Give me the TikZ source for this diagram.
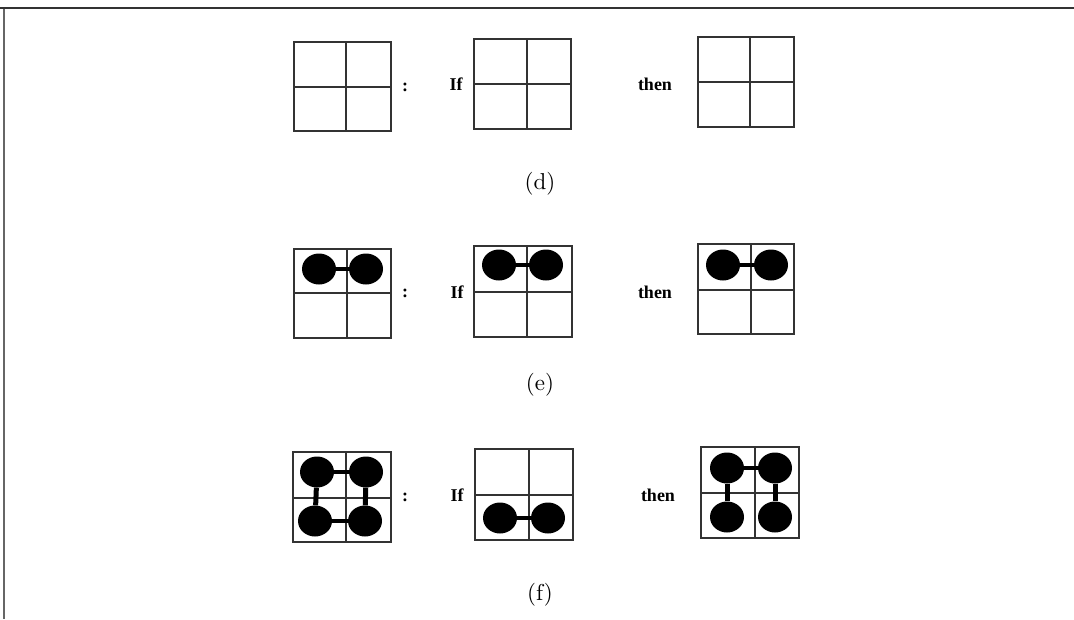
\documentclass[tikz,border=0pt]{standalone}
\usepackage{fontspec}
\newfontfamily\tms{Liberation Serif}
\newfontfamily\lmten{lmroman10-regular.otf}
\usetikzlibrary{shapes.geometric}
\newcommand\qgrid[6]{\draw[gridline] (#1,#2) rectangle (#3,#4) (#5,#2) -- (#5,#4) (#1,#6) -- (#3,#6);}
\begin{document}
\begin{tikzpicture}[x=1pt,y=-1pt,
 gridline/.style={line width=1.2pt,draw=black!80},
 ball/.style={ellipse,fill=black,minimum width=34pt,minimum height=31pt,inner sep=0pt},
 hbond/.style={line width=3.5pt},
 vbond/.style={line width=5pt},
 kw/.style={font=\tms\bfseries\fontsize{18}{20}\selectfont,inner sep=0pt},
 capt/.style={font=\lmten\fontsize{23}{26}\selectfont,inner sep=0pt}]
\useasboundingbox (0,0) rectangle (1074,619);
\draw[line width=2pt,black!80] (0,8) -- (1074,8);
\draw[line width=1.5pt,black!60] (4,9) -- (4,619);
% row d
\qgrid{294}{42}{391}{131}{346}{87}
\qgrid{474}{39}{571}{129}{527}{84}
\qgrid{698}{37}{794}{127}{750}{82}
\node[kw] (cd) at (405,87) {:};
\node[kw] (ifd) at (456,84) {If};
\node[kw] (thd) at (655,84) {then};
\node[capt] (labd) at (540,184) {(d)};
% row e
\qgrid{294}{249}{391}{338}{347}{293}
\qgrid{474}{246}{572}{337}{527}{292}
\qgrid{698}{244}{794}{334}{751}{290}
\node[kw] (ce) at (405,293) {:};
\node[kw] (ife) at (457,292) {If};
\node[kw] (the) at (655,292) {then};
\node[capt] (labe) at (540,385) {(e)};
\node[ball] (e1a) at (319,269) {};
\node[ball] (e1b) at (366,269) {};
\draw[hbond] (e1a) -- (e1b);
\node[ball] (e2a) at (499,265) {};
\node[ball] (e2b) at (546,265) {};
\draw[hbond] (e2a) -- (e2b);
\node[ball] (e3a) at (723,265) {};
\node[ball] (e3b) at (771,265) {};
\draw[hbond] (e3a) -- (e3b);
% row f
\qgrid{293}{452}{391}{542}{346}{498}
\qgrid{475}{449}{573}{540}{529}{495}
\qgrid{701}{447}{799}{538}{755}{493}
\node[kw] (cf) at (405,497) {:};
\node[kw] (iff) at (457,495) {If};
\node[kw] (thf) at (658,495) {then};
\node[capt] (labf) at (540,595) {(f)};
\node[ball] (f1tl) at (317,472) {};
\node[ball] (f1tr) at (366,472) {};
\node[ball] (f1bl) at (315,521) {};
\node[ball] (f1br) at (365,521) {};
\draw[hbond] (f1tl) -- (f1tr);
\draw[hbond] (f1bl) -- (f1br);
\draw[vbond] (f1tl) -- (f1bl);
\draw[vbond] (f1tr) -- (f1br);
\node[ball] (f2a) at (500,518) {};
\node[ball] (f2b) at (548,518) {};
\draw[hbond] (f2a) -- (f2b);
\node[ball] (f3tl) at (727,468) {};
\node[ball] (f3tr) at (775,468) {};
\node[ball] (f3bl) at (727,517) {};
\node[ball] (f3br) at (775,517) {};
\draw[hbond] (f3tl) -- (f3tr);
\draw[vbond] (f3tl) -- (f3bl);
\draw[vbond] (f3tr) -- (f3br);
\end{tikzpicture}
\end{document}
